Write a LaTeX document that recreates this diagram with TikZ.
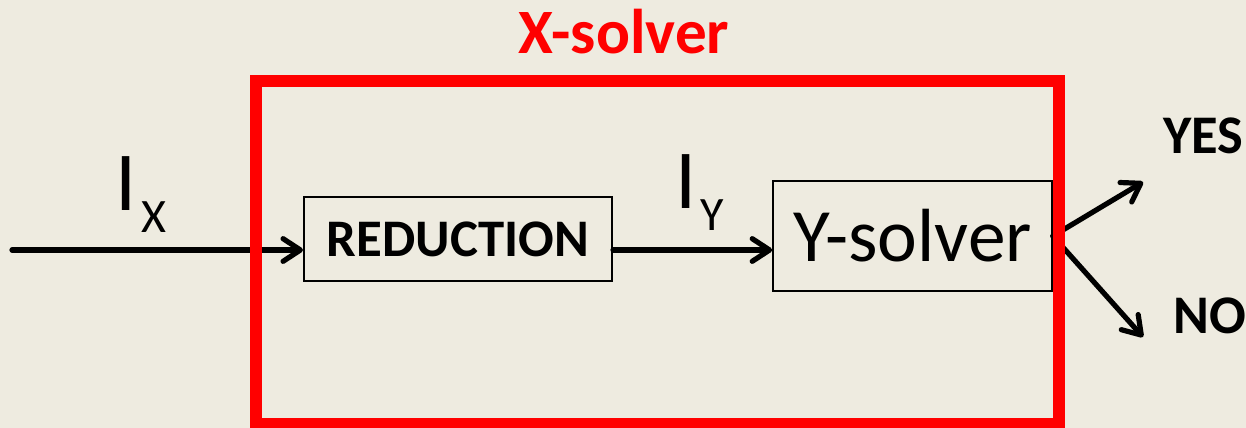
\documentclass[tikz,border=0pt]{standalone}
\usepackage{fontspec}
\setmainfont{Carlito}
\usepackage{xcolor}
\usetikzlibrary{arrows.meta}

\definecolor{paper}{RGB}{238,235,224}
\definecolor{solverred}{RGB}{255,0,0}

\newcommand{\instance}[1]{{\fontsize{63}{63}\selectfont I}\kern3pt\raisebox{-16.5pt}{\fontsize{36}{36}\selectfont #1}}

\tikzset{
  blockbox/.style={draw, line width=1.5pt, inner sep=0pt, fill=paper},
  arr/.style={line width=3.9pt, line cap=round, -{Straight Barb[round, length=13pt, width=17pt]}},
}

\begin{document}
\begin{tikzpicture}[x=0.75pt, y=-0.75pt]
    \fill[paper] (0,0) rectangle (1246,428);
    \useasboundingbox (0,0) rectangle (1246,428);

    % Nodes
    \node[text=solverred, font=\fontsize{47.4}{47.4}\selectfont\bfseries] (title) at (624,32) {X-solver};
    \node[blockbox, minimum width=231pt, minimum height=63pt, font=\fontsize{39.6}{39.6}\selectfont\bfseries] (red) at (458,239) {REDUCTION};
    \node[blockbox, minimum width=209pt, minimum height=82.5pt, font=\fontsize{56.5}{56.5}\selectfont] (ysol) at (912.5,236) {Y-solver};
    \node (ix) at (141,195) {\instance{X}};
    \node (iy) at (700,193) {\instance{Y}};
    \node[font=\fontsize{40.8}{40.8}\selectfont\bfseries] (yes) at (1203,136) {YES};
    \node[font=\fontsize{40.8}{40.8}\selectfont\bfseries] (no) at (1210,316) {NO};
    \coordinate (in) at (12,250);
    \coordinate (yestip) at (1143,182);
    \coordinate (notip) at (1143,337);

    % Edges
    \draw[arr] (in) -- (in -| red.west);
    \draw[arr] (in -| red.east) -- (in -| ysol.west);
    \draw[arr] (ysol.east) -- (yestip);
    \draw[arr] (ysol.east) -- (notip);

    % Frame
    \draw[solverred, line width=9pt] (256,81.5) rectangle (1059,424);
\end{tikzpicture}
\end{document}
